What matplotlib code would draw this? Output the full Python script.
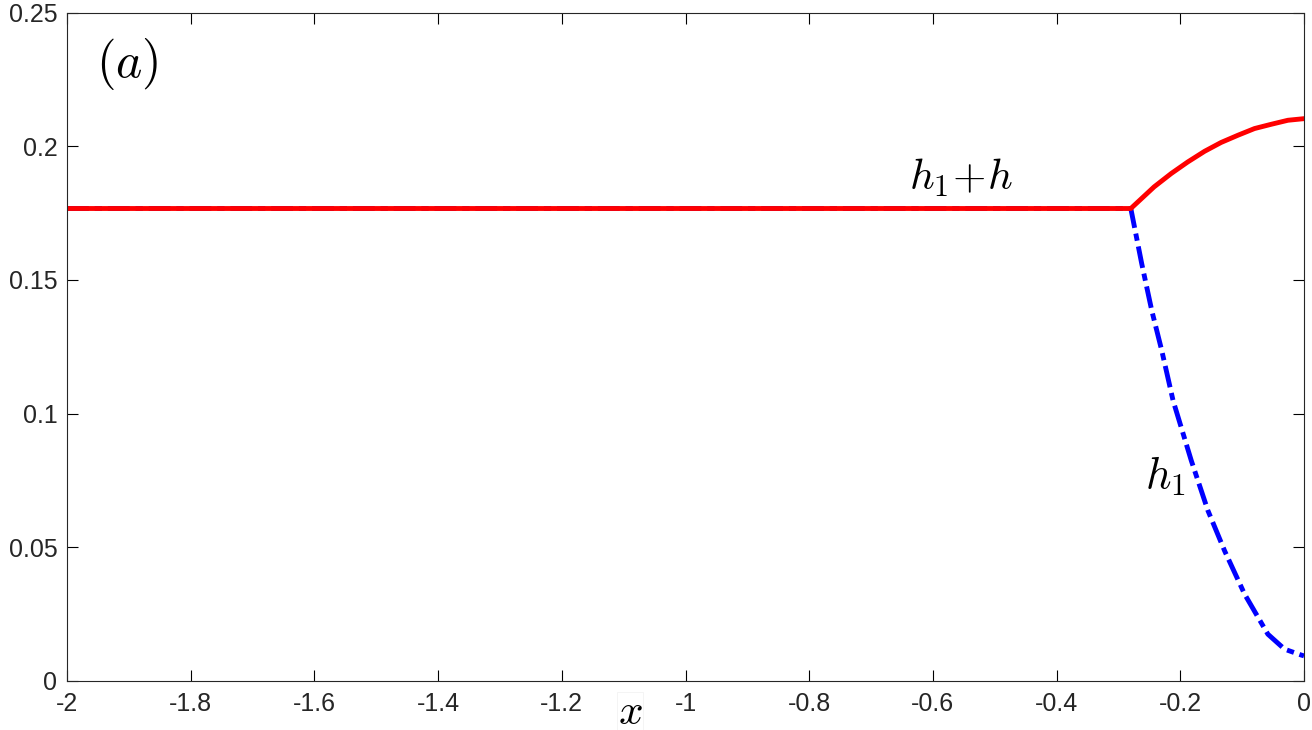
"""Film heights h1 and h1+h along x, panel (a)."""

import matplotlib.pyplot as plt

plt.rcParams["font.family"] = ["Liberation Sans", "DejaVu Sans"]
plt.rcParams["mathtext.fontset"] = "cm"

# values
x_flat = [-2.0, -0.28]
h_flat = [0.1767, 0.1767]

x_top = [-0.28, -0.2423, -0.2146, -0.188, -0.1607, -0.134, -0.1068, -0.080,
         -0.0529, -0.026, 0.0]
h_top = [0.1767, 0.1848, 0.1898, 0.1941, 0.1981, 0.2014, 0.2041, 0.2066,
         0.2082, 0.2097, 0.2103]

x_h1 = [-2.0, -0.28, -0.2624, -0.2462, -0.2300, -0.2117, -0.1822, -0.1553,
        -0.1284, -0.0961, -0.0584, -0.0314, -0.0044, 0.0]
h1 = [0.1767, 0.1767, 0.1561, 0.1386, 0.1236, 0.1049, 0.0824, 0.0637,
      0.0487, 0.0325, 0.0175, 0.0119, 0.0097, 0.0094]

x_ticks = [-2, -1.8, -1.6, -1.4, -1.2, -1, -0.8, -0.6, -0.4, -0.2, 0]
x_tick_labels = ["-2", "-1.8", "-1.6", "-1.4", "-1.2", "-1", "-0.8", "-0.6",
                 "-0.4", "-0.2", "0"]
y_ticks = [0, 0.05, 0.1, 0.15, 0.2, 0.25]
y_tick_labels = ["0", "0.05", "0.1", "0.15", "0.2", "0.25"]


def build_figure():
    fig = plt.figure(figsize=(13.12, 7.3), dpi=100)
    ax = fig.add_axes([67 / 1312, 1 - 681 / 730, 1237 / 1312, 668.5 / 730])

    ax.plot(x_h1, h1, color="blue", lw=3.5, linestyle=(0, (4.5, 1.2, 1.5, 1.2)))
    ax.plot(x_flat + x_top[1:], h_flat + h_top[1:], color="red", lw=3.5)

    ax.set_xlim(-2, 0)
    ax.set_ylim(0, 0.25)
    ax.set_xticks(x_ticks)
    ax.set_xticklabels(x_tick_labels)
    ax.set_yticks(y_ticks)
    ax.set_yticklabels(y_tick_labels)
    ax.tick_params(direction="in", length=8, width=0.8, top=True, right=True,
                   labelsize=18, labelcolor="#262626")
    ax.tick_params(axis="x", pad=8)
    ax.tick_params(axis="y", pad=7)
    for s in ax.spines.values():
        s.set_linewidth(0.8)
        s.set_color("#262626")

    ax.text(-0.555, 0.188, r"$h_1\!+\!h$", fontsize=31, ha="center", va="center")
    ax.text(-0.2247, 0.0764, r"$h_1$", fontsize=32, ha="center", va="center")
    ax.text(-1.903, 0.2307, r"$(a)$", fontsize=36, ha="center", va="center")
    ax.text(-1.0897, -0.0118, r"$x$", fontsize=31, ha="center", va="center",
            bbox=dict(facecolor="white", edgecolor="#f0f0f0", pad=0.5, lw=0.5))
    return fig


fig = build_figure()
fig.savefig("out.png", dpi=100)
